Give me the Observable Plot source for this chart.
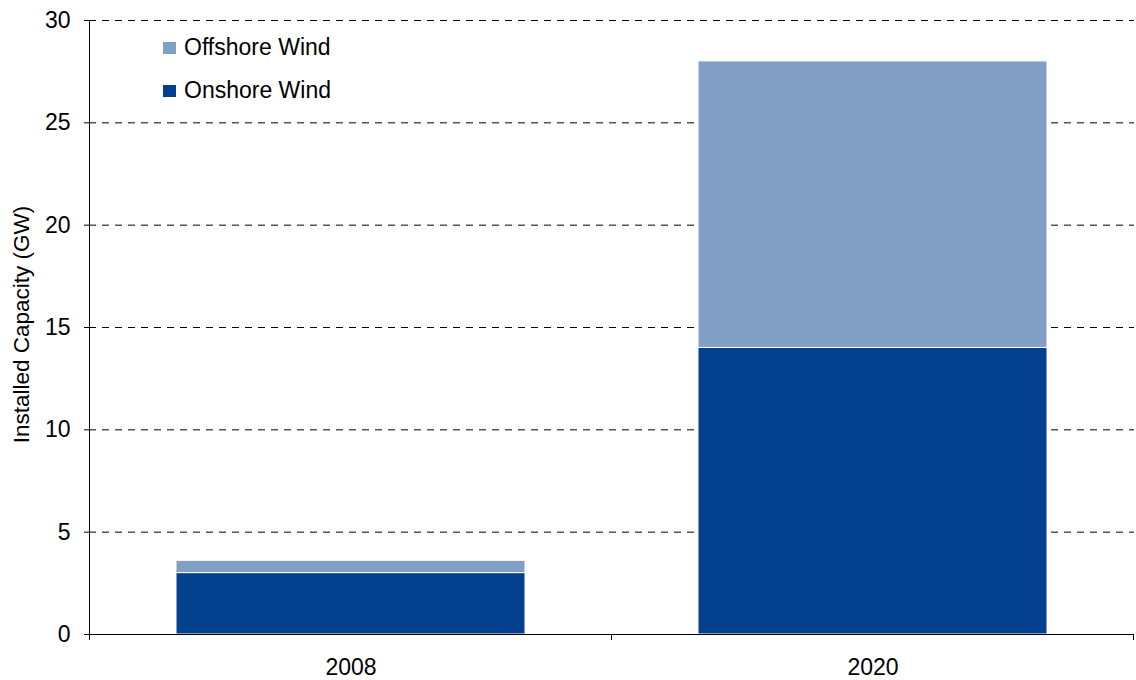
<!DOCTYPE html>
<html>
<head>
<meta charset="utf-8">
<script src="https://cdn.jsdelivr.net/npm/d3@7"></script>
<script src="https://cdn.jsdelivr.net/npm/@observablehq/plot@0.6"></script>
<style>
  body { margin: 0; background: #fff; }
  #chart { position: relative; width: 1136px; height: 680px; font-family: "Liberation Sans", Arial, sans-serif; }
  #legend { position: absolute; left: 163px; top: 26px; font-size: 23px; color: #000; }
  #legend .row { display: flex; align-items: center; height: 43px; }
  #legend .sw { width: 13px; height: 12px; margin-right: 8px; }
</style>
</head>
<body>
<div id="chart"><div id="legend"></div></div>
<script>
// ---- data ----
const years = ["2008", "2020"];
const onshore = [3.0, 14.0];
const offshore = [0.6, 14.0];
const seriesNames = ["Onshore Wind", "Offshore Wind"];
const seriesColors = ["#03418E", "#82A0C6"];
const legendOrder = ["Offshore Wind", "Onshore Wind"];
const yTicks = [0, 5, 10, 15, 20, 25, 30];
const gridTicks = [5, 10, 15, 20, 25, 30];
const yTitle = "Installed Capacity (GW)";

const rows = years.flatMap((yr, i) => [
  { year: yr, series: seriesNames[0], value: onshore[i] },
  { year: yr, series: seriesNames[1], value: offshore[i] }
]);

const plot = Plot.plot({
  width: 1136,
  height: 680,
  marginLeft: 89,
  marginRight: 2,
  marginTop: 20,
  marginBottom: 46,
  style: { fontFamily: "Liberation Sans, Arial, sans-serif", fontSize: "23px", color: "#000", background: "#fff", overflow: "visible" },
  x: { domain: years, paddingInner: 0.332, paddingOuter: 0.166, label: null },
  y: { domain: [0, 30], label: null },
  color: { domain: seriesNames, range: seriesColors },
  marks: [
    Plot.gridY(gridTicks, { stroke: "#000", strokeOpacity: 1, strokeDasharray: "7,6" }),
    Plot.barY(rows, { x: "year", y: "value", fill: "series", order: seriesNames, stroke: "white", strokeWidth: 1 }),
    Plot.ruleY([0], { stroke: "#000" }),
    Plot.frame({ anchor: "left", stroke: "#000" }),
    Plot.axisY({ ticks: yTicks, tickSize: 5, tickPadding: 14, fontSize: 23, label: null }),
    Plot.axisX({ tickSize: 0, tickPadding: 24, fontSize: 23, label: null }),
    Plot.text([yTitle], { frameAnchor: "left", rotate: -90, textAnchor: "middle", dx: -68, dy: -3, fontSize: 22.5, fill: "#000" })
  ]
});

// category boundary ticks on the x axis, from the band scale
const xs = plot.scale("x");
const ys = plot.scale("y");
const gap = (xs.step - xs.bandwidth) / 2;
const bounds = years.map(d => xs.apply(d) - gap);
bounds.push(xs.apply(years[years.length - 1]) + xs.bandwidth + gap);
const y0 = ys.apply(0);
const svg = d3.select(plot.tagName === "svg" ? plot : plot.querySelector("svg"));
svg.append("g").selectAll("line").data(bounds).join("line")
  .attr("x1", d => d).attr("x2", d => d)
  .attr("y1", y0).attr("y2", y0 + 6)
  .attr("stroke", "#000");

const chart = document.getElementById("chart");
chart.insertBefore(plot, chart.firstChild);

const legend = d3.select("#legend");
legendOrder.forEach(name => {
  const row = legend.append("div").attr("class", "row");
  row.append("div").attr("class", "sw").style("background", seriesColors[seriesNames.indexOf(name)]);
  row.append("span").text(name);
});
</script>
</body>
</html>
